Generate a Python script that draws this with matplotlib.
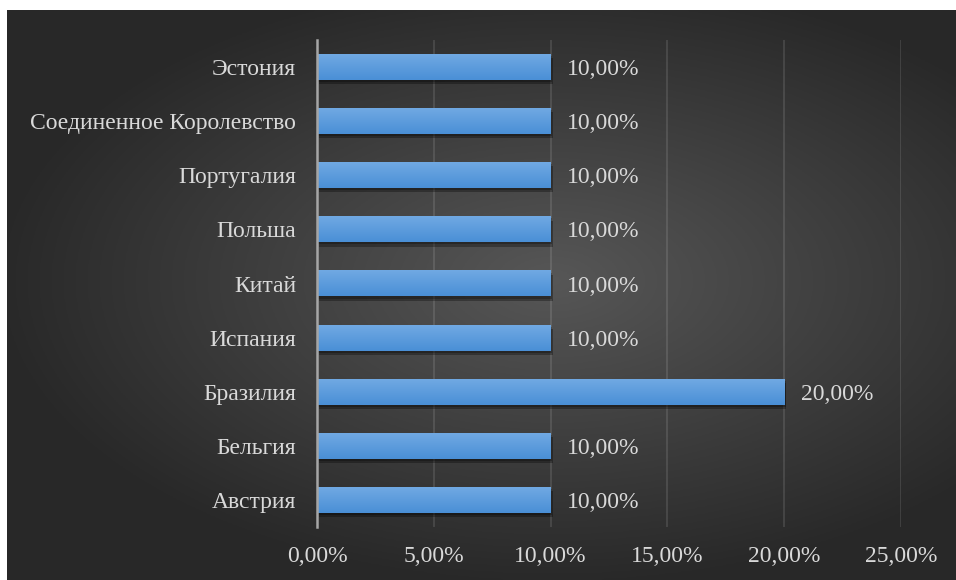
# Horizontal bar chart: share by country, dark Excel-like theme

import numpy as np
import matplotlib
matplotlib.use("Agg")
import matplotlib.pyplot as plt
import matplotlib.patheffects as pe

# --- Data ---
countries = ["Австрия", "Бельгия", "Бразилия", "Испания", "Китай",
             "Польша", "Португалия", "Соединенное Королевство", "Эстония"]
shares = [10.0, 10.0, 20.0, 10.0, 10.0, 10.0, 10.0, 10.0, 10.0]
x_ticks = [0, 5, 10, 15, 20, 25]

plt.rcParams["font.family"] = ["Liberation Serif", "DejaVu Serif"]
TEXT = "#d9d9d9"
FS = 17

W, H = 956, 580
fig = plt.figure(figsize=(W / 100, H / 100), dpi=100, facecolor="white")

# --- Background: radial gradient, white strip on top and left ---
bg = fig.add_axes([7 / W, 0, 1 - 7 / W, 1 - 10 / H])
bg.set_axis_off()
gx, gy = np.meshgrid(np.linspace(-1, 1, 400), np.linspace(-1, 1, 250))
r = np.sqrt(((gx - 0.15) / 1.1) ** 2 + ((gy + 0.05) / 1.0) ** 2)
shade = np.clip(0.34 - 0.17 * r, 0.16, 0.34)
bg.imshow(np.dstack([shade] * 3), aspect="auto", extent=[0, 1, 0, 1])

# --- Main axes ---
left, right, top, bottom = 317, 901, 40, 527
ax = fig.add_axes([left / W, 1 - bottom / H, (right - left) / W, (bottom - top) / H])
ax.patch.set_alpha(0)

y = np.arange(len(countries))
bar_h = 0.48

# bars with a gradient fill drawn inside each bar rectangle
grad = np.linspace(0, 1, 50).reshape(-1, 1)
c_top = np.array([0.44, 0.66, 0.89])
c_bot = np.array([0.29, 0.56, 0.84])
colors = c_bot + (c_top - c_bot) * grad
img = np.dstack([colors[:, 0:1], colors[:, 1:2], colors[:, 2:3]])

shadow = [pe.SimplePatchShadow(offset=(1.5, -3), shadow_rgbFace="black", alpha=0.3),
          pe.SimplePatchShadow(offset=(1, -1.5), shadow_rgbFace="black", alpha=0.25),
          pe.Normal()]
bars = ax.barh(y, shares, height=bar_h, color="#5b9bd5", zorder=3, path_effects=shadow)
for b in bars:
    x0, y0 = b.get_x(), b.get_y()
    ax.imshow(img, extent=[x0, x0 + b.get_width(), y0, y0 + b.get_height()],
              aspect="auto", zorder=4, origin="lower")

for yi, v in zip(y, shares):
    ax.text(v + 0.7, yi, f"{v:.2f}".replace(".", ",") + "%", va="center_baseline", ha="left",
            color=TEXT, fontsize=FS, zorder=5)

ax.set_xlim(0, 25)
ax.set_ylim(-0.5, len(countries) - 0.5)
ax.set_xticks(x_ticks)
ax.set_xticklabels([f"{t:.2f}".replace(".", ",") + "%" for t in x_ticks])
ax.set_yticks(y)
ax.set_yticklabels(countries)
ax.tick_params(axis="both", length=0, colors=TEXT, labelsize=FS)
ax.tick_params(axis="x", pad=14)
ax.tick_params(axis="y", pad=15)

ax.grid(axis="x", color="white", alpha=0.12, linewidth=1.3, zorder=1)
for s in ["top", "right", "bottom"]:
    ax.spines[s].set_visible(False)
ax.spines["left"].set_color("#a6a6a6")
ax.spines["left"].set_linewidth(1.8)
ax.spines["left"].set_zorder(6)

fig.savefig("out.png", dpi=100, facecolor=fig.get_facecolor())
